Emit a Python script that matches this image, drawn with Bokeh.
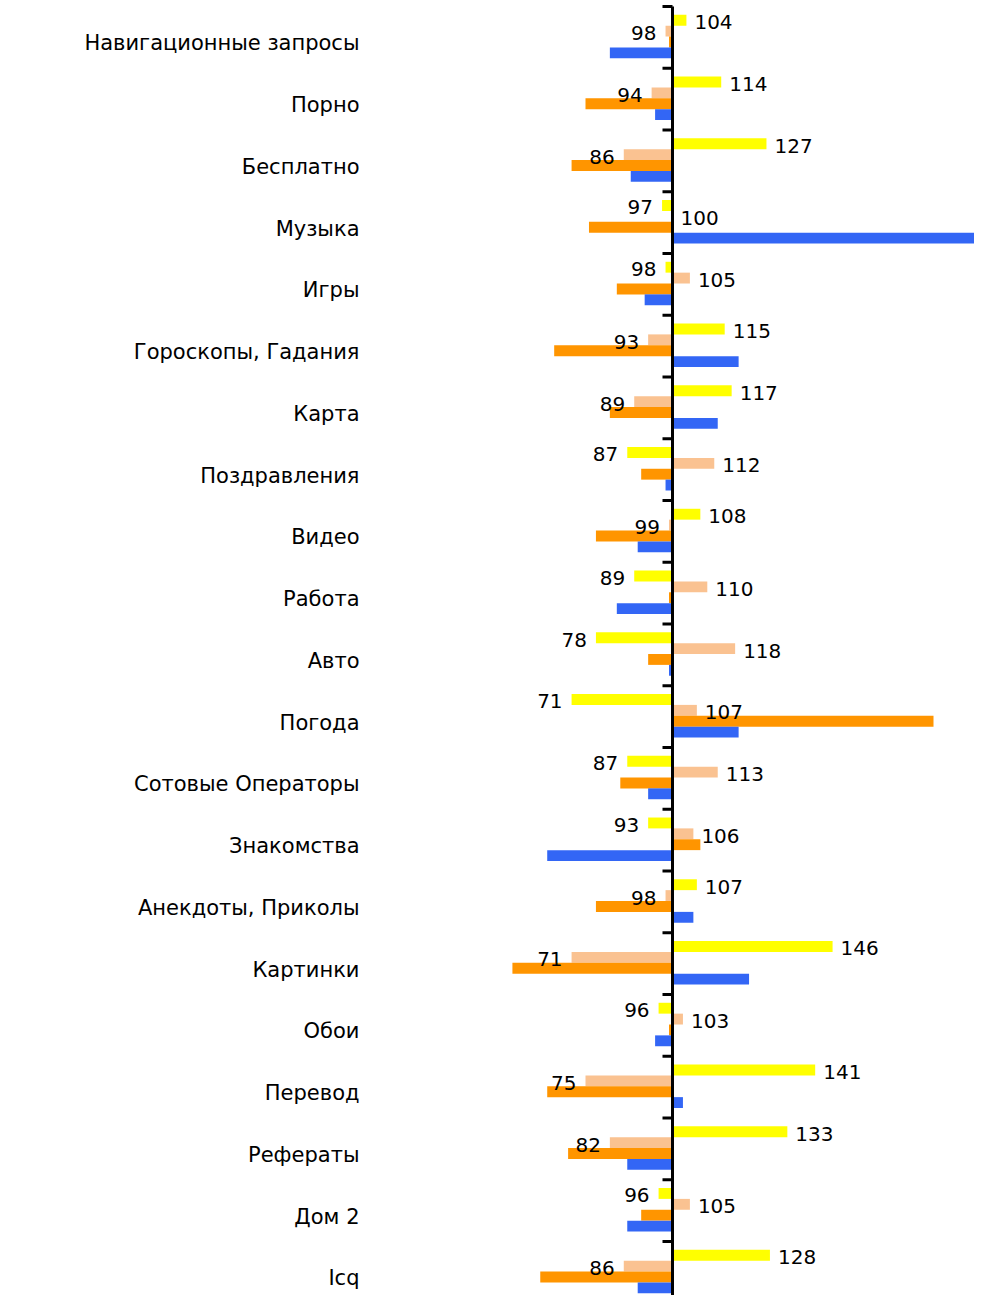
from bokeh.plotting import figure
from bokeh.models import ColumnDataSource, Range1d
from bokeh.core.properties import value
from bokeh.embed import file_html
from bokeh.resources import INLINE

# ---------------- data ----------------
categories = ["Навигационные запросы", "Порно", "Бесплатно", "Музыка", "Игры",
              "Гороскопы, Гадания", "Карта", "Поздравления", "Видео", "Работа",
              "Авто", "Погода", "Сотовые Операторы", "Знакомства",
              "Анекдоты, Приколы", "Картинки", "Обои", "Перевод", "Рефераты",
              "Дом 2", "Icq"]
yellow = [104, 114, 127, 97, 98, 115, 117, 87, 108, 89, 78, 71, 87, 93, 107,
          146, 96, 141, 133, 96, 128]
peach = [98, 94, 86, 100, 105, 93, 89, 112, 99, 110, 118, 107, 113, 106, 98,
         71, 103, 75, 82, 105, 86]
orange = [99, 75, 71, 76, 84, 66, 82, 91, 78, 99, 93, 175, 85, 108, 78, 54,
          99, 64, 70, 91, 62]
blue = [82, 95, 88, 189, 92, 119, 113, 98, 90, 84, 99, 119, 93, 64, 106, 122,
        95, 103, 87, 87, 90]
BASE = 100

# ---------------- layout ----------------
W, H = 974, 1295
AXIS_PX = 672          # pixel position of the base line
PX_PER_UNIT = 3.48
BAND_PX = 61.75
TOP_PX = 6
N = len(categories)

x_start = BASE - AXIS_PX / PX_PER_UNIT
x_end = BASE + (W - AXIS_PX) / PX_PER_UNIT
y_top = -TOP_PX / BAND_PX
y_bottom = (H - TOP_PX) / BAND_PX

p = figure(width=W, height=H, output_backend="svg", toolbar_location=None,
           x_range=Range1d(x_start, x_end), y_range=Range1d(y_bottom, y_top),
           x_axis_type=None, y_axis_type=None, min_border=0,
           background_fill_color="white", border_fill_color="white")
p.outline_line_color = None

BAR_H = 0.176
BAR_TOP = 0.134
series = [(yellow, "#FFFF00"), (peach, "#FAC291"), (orange, "#FF9500"), (blue, "#3366F5")]
centers = []
for j, (vals, col) in enumerate(series):
    ys = [i + BAR_TOP + BAR_H * (j + 0.5) for i in range(N)]
    centers.append(ys)
    src = ColumnDataSource(dict(y=ys, right=vals, left=[BASE] * N))
    p.hbar(y="y", left="left", right="right", height=BAR_H, source=src,
           fill_color=col, line_color=None)

# vertical base line with tick marks at band boundaries
p.segment(x0=[BASE], y0=[0], x1=[BASE], y1=[N], line_color="black", line_width=3)
tick_len = 10 / PX_PER_UNIT
p.segment(x0=[BASE - tick_len] * (N + 1), y0=list(range(N + 1)),
          x1=[BASE] * (N + 1), y1=list(range(N + 1)),
          line_color="black", line_width=3)

# value labels for yellow and peach series
for j in (0, 1):
    vals = series[j][0]
    src = ColumnDataSource(dict(
        x=vals, y=centers[j], text=[str(v) for v in vals],
        align=["left" if v >= BASE else "right" for v in vals],
        xo=[8 if v >= BASE else -9 for v in vals]))
    p.text(x="x", y="y", text="text", source=src, text_align="align",
           x_offset="xo", y_offset=2, text_baseline="middle",
           text_font=value("DejaVu Sans"), text_font_size="20px",
           text_color="black")

# category labels
label_x = BASE + (359 - AXIS_PX) / PX_PER_UNIT
csrc = ColumnDataSource(dict(x=[label_x] * N, y=[i + 0.5 for i in range(N)],
                             text=categories))
p.text(x="x", y="y", text="text", source=csrc, text_align="right",
       text_baseline="middle", y_offset=6, text_font=value("DejaVu Sans"),
       text_font_size="21px", text_color="black")

open("out.html", "w").write(file_html(p, INLINE))
